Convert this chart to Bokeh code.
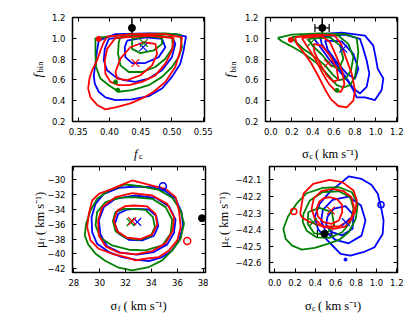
import math
from bokeh.plotting import figure
from bokeh.layouts import column, row
from bokeh.models import (Range1d, LinearAxis, FixedTicker, CustomJSTickFormatter,
                          Label, Whisker, TeeHead, ColumnDataSource)
from bokeh.embed import file_html
from bokeh.resources import INLINE

BLUE, GREEN, RED = "#0000ff", "#008000", "#ff0000"

# ---------------- panel A : f_c  vs  f_bin ----------------
a_xticks = [0.35, 0.40, 0.45, 0.50, 0.55]
a_yticks = [0.2, 0.4, 0.6, 0.8, 1.0, 1.2]
a_blue_3 = [(0.383, 0.978), (0.4096, 1.041), (0.4628, 1.048), (0.5053, 1.041), (0.5224, 1.016), (0.5186, 0.883),
            (0.5133, 0.756), (0.500, 0.629), (0.4841, 0.517), (0.4628, 0.444), (0.4362, 0.413), (0.4096, 0.406),
            (0.3936, 0.432), (0.383, 0.486), (0.3766, 0.565), (0.375, 0.644), (0.3777, 0.756), (0.3803, 0.883)]
a_blue_2 = [(0.399, 0.994), (0.4468, 1.025), (0.500, 1.010), (0.5053, 0.946), (0.500, 0.819), (0.4841, 0.692),
            (0.4628, 0.613), (0.4415, 0.581), (0.4229, 0.597), (0.4096, 0.629), (0.3963, 0.692), (0.391, 0.787),
            (0.3926, 0.898)]
a_blue_1 = [(0.4282, 0.978), (0.4574, 1.010), (0.4841, 0.994), (0.4894, 0.914), (0.4787, 0.819), (0.4574, 0.762),
            (0.4362, 0.762), (0.4255, 0.819), (0.4245, 0.914)]
a_green_3 = [(0.3777, 1.003), (0.4362, 1.041), (0.4894, 1.048), (0.5133, 1.035), (0.516, 0.914), (0.5107, 0.819),
             (0.500, 0.724), (0.4841, 0.629), (0.4628, 0.549), (0.4362, 0.501), (0.4149, 0.486), (0.399, 0.549),
             (0.3856, 0.613), (0.3787, 0.724), (0.3777, 0.851)]
a_green_2 = [(0.4176, 1.010), (0.4628, 1.035), (0.500, 1.010), (0.5016, 0.914), (0.4894, 0.803), (0.4734, 0.724),
             (0.4521, 0.676), (0.4309, 0.676), (0.4176, 0.740), (0.4138, 0.851), (0.4149, 0.962)]
a_green_1 = [(0.4362, 0.994), (0.4628, 1.022), (0.4841, 1.003), (0.4841, 0.946), (0.4708, 0.883), (0.4495, 0.857),
             (0.4362, 0.898)]
a_red_3 = [(0.3963, 1.016), (0.4362, 1.041), (0.4894, 1.041), (0.516, 1.010), (0.5133, 0.883), (0.5053, 0.724),
           (0.4894, 0.581), (0.4708, 0.486), (0.4521, 0.422), (0.4335, 0.375), (0.4096, 0.336), (0.3936, 0.317),
           (0.3803, 0.359), (0.3697, 0.432), (0.366, 0.517), (0.3681, 0.613), (0.3723, 0.692), (0.3803, 0.787),
           (0.3856, 0.883), (0.391, 0.962)]
a_red_2 = [(0.4096, 1.003), (0.4628, 1.025), (0.5027, 1.003), (0.500, 0.883), (0.4894, 0.756), (0.4734, 0.644),
           (0.4521, 0.581), (0.4309, 0.549), (0.4149, 0.549), (0.4016, 0.581), (0.3936, 0.660), (0.3926, 0.787),
           (0.3963, 0.898)]
a_red_1 = [(0.4096, 0.676), (0.4176, 0.804), (0.4335, 0.914), (0.4548, 0.962), (0.4735, 0.947), (0.4762, 0.851),
           (0.4682, 0.740), (0.4495, 0.645), (0.4283, 0.597), (0.4123, 0.613)]
a_cross_blue = (0.4538, 0.914)
a_cross_green = (0.455, 0.955)
a_cross_red = (0.4415, 0.762)
a_dots_red = [(0.383, 0.994)]
a_dots_green = [(0.4098, 0.581), (0.4133, 0.502)]
a_obs_x, a_obs_y, a_obs_ylo, a_obs_yhi = [0.436], [1.10], [1.0], [1.2]

# ---------------- panel B : sigma_c  vs  f_bin ----------------
b_xticks = [0.0, 0.2, 0.4, 0.6, 0.8, 1.0, 1.2]
b_yticks = [0.2, 0.4, 0.6, 0.8, 1.0, 1.2]
b_blue_3 = [(0.4058, 1.035), (0.675, 1.054), (0.897, 1.025), (0.976, 0.930), (0.9986, 0.819), (1.0176, 0.708),
            (1.0715, 0.613), (1.0556, 0.502), (0.9922, 0.406), (0.897, 0.432), (0.818, 0.432), (0.786, 0.502),
            (0.7386, 0.581), (0.6594, 0.676), (0.5643, 0.787), (0.485, 0.898), (0.4216, 0.984)]
b_blue_2 = [(0.469, 1.016), (0.7069, 1.035), (0.8496, 0.994), (0.8813, 0.898), (0.913, 0.787), (0.9383, 0.660),
            (0.913, 0.533), (0.8496, 0.470), (0.786, 0.517), (0.7228, 0.613), (0.6435, 0.724), (0.5484, 0.851),
            (0.485, 0.946)]
b_blue_1 = [(0.5167, 0.978), (0.675, 0.971), (0.786, 0.851), (0.8337, 0.708), (0.802, 0.613), (0.7228, 0.660),
            (0.6277, 0.771), (0.542, 0.889)]
b_green_3 = [(0.0666, 1.003), (0.200, 1.035), (0.4533, 1.048), (0.7069, 1.041), (0.8179, 1.003), (0.8337, 0.867),
             (0.8179, 0.740), (0.802, 0.629), (0.7545, 0.549), (0.6911, 0.527), (0.6277, 0.549), (0.5484, 0.644),
             (0.4375, 0.762), (0.3107, 0.857), (0.1839, 0.930), (0.1046, 0.971)]
b_green_2 = [(0.200, 1.010), (0.4216, 1.035), (0.6435, 1.025), (0.7386, 0.946), (0.786, 0.819), (0.764, 0.692),
             (0.7133, 0.613), (0.653, 0.597), (0.596, 0.644), (0.5167, 0.740), (0.4216, 0.819), (0.3107, 0.898),
             (0.2314, 0.971)]
b_green_1 = [(0.3582, 0.994), (0.5643, 1.010), (0.6594, 0.930), (0.691, 0.803), (0.6499, 0.708), (0.5738, 0.740),
             (0.485, 0.844), (0.3963, 0.930)]
b_red_3 = [(0.2314, 1.010), (0.4216, 1.035), (0.6055, 1.029), (0.6689, 0.946), (0.7133, 0.819), (0.7703, 0.660),
           (0.802, 0.502), (0.786, 0.400), (0.7228, 0.336), (0.6435, 0.349), (0.5738, 0.413), (0.5167, 0.508),
           (0.4533, 0.635), (0.3836, 0.762), (0.3107, 0.867), (0.2473, 0.946)]
b_red_2 = [(0.2948, 1.003), (0.485, 1.022), (0.5643, 0.962), (0.6277, 0.819), (0.6816, 0.676), (0.7006, 0.559),
           (0.6689, 0.486), (0.6182, 0.492), (0.5548, 0.559), (0.4914, 0.667), (0.428, 0.794), (0.3582, 0.905)]
b_red_1 = [(0.4058, 0.946), (0.485, 0.930), (0.5643, 0.835), (0.6277, 0.708), (0.6435, 0.603), (0.596, 0.581),
           (0.5326, 0.644), (0.4692, 0.756), (0.4153, 0.867)]
b_cross_blue = (0.69, 0.90)
b_cross_green = (0.38, 0.955)
b_cross_red = (0.545, 0.76)
b_dots_red = [(0.19, 0.985)]
b_dots_green = [(0.63, 0.50)]
b_obs_x, b_obs_y = [0.49], [1.10]
b_obs_xlo, b_obs_xhi, b_obs_ylo, b_obs_yhi = [0.42], [0.556], [1.0], [1.2]

# ---------------- panel C : sigma_f  vs  mu_f ----------------
c_xticks = [28, 30, 32, 34, 36, 38]
c_yticks = [-30, -32, -34, -36, -38, -40, -42]
c_blue_3 = [(32.77, -30.94), (34.06, -31.03), (35.09, -31.57), (35.86, -32.60), (36.32, -34.38), (36.43, -36.17),
            (36.12, -38.19), (35.55, -39.62), (34.83, -40.43), (33.80, -40.96), (32.77, -40.78), (31.74, -40.43),
            (30.71, -39.75), (29.80, -38.64), (29.42, -37.07), (29.37, -35.06), (29.68, -33.27), (30.32, -31.92),
            (31.48, -31.12)]
c_blue_2 = [(32.64, -32.15), (34.31, -32.46), (35.35, -33.62), (35.86, -35.41), (35.73, -37.20), (35.22, -38.72),
            (34.19, -39.75), (32.90, -40.11), (31.61, -39.84), (30.58, -38.99), (30.06, -37.38), (29.93, -35.50),
            (30.32, -33.71), (31.22, -32.60)]
c_blue_1 = [(32.77, -33.94), (33.80, -34.03), (34.37, -34.92), (34.52, -36.26), (34.19, -37.56), (33.28, -38.19),
            (32.25, -38.10), (31.48, -37.29), (31.17, -35.95), (31.43, -34.61), (32.12, -34.03)]
c_green_3 = [(32.00, -30.67), (33.28, -30.94), (34.57, -31.39), (35.60, -32.46), (36.25, -34.16), (36.51, -35.95),
             (36.25, -37.96), (35.60, -39.53), (34.83, -40.87), (33.80, -41.77), (32.51, -42.21), (31.48, -41.86),
             (30.45, -40.96), (29.68, -39.98), (29.11, -38.72), (28.85, -37.52), (28.95, -35.95), (29.29, -34.16),
             (29.80, -32.60), (30.71, -31.48)]
c_green_2 = [(32.51, -32.37), (34.06, -32.60), (35.09, -33.71), (35.60, -35.41), (35.47, -37.29), (34.83, -38.86),
             (33.54, -39.53), (32.25, -39.44), (30.96, -38.86), (30.06, -37.83), (29.68, -36.17), (29.80, -34.38),
             (30.45, -33.04), (31.48, -32.46)]
c_green_1 = [(32.51, -33.94), (33.54, -34.07), (34.11, -35.06), (34.26, -36.40), (33.93, -37.65), (33.03, -38.10),
             (32.00, -37.83), (31.22, -36.94), (31.02, -35.59), (31.22, -34.38), (31.87, -33.94)]
c_red_3 = [(32.51, -30.13), (34.06, -30.81), (35.09, -31.25), (35.86, -32.37), (36.12, -34.16), (36.25, -36.40),
           (35.99, -38.19), (35.35, -39.53), (34.57, -40.43), (33.54, -40.65), (32.77, -40.87), (32.00, -40.43),
           (30.96, -39.98), (29.93, -39.31), (29.29, -38.19), (29.03, -36.40), (29.16, -34.61), (29.42, -32.82),
           (29.93, -31.92), (30.96, -31.25), (31.87, -30.58)]
c_red_2 = [(32.51, -31.83), (34.06, -32.15), (35.22, -33.27), (35.73, -35.06), (35.65, -36.85), (35.09, -38.55),
           (34.06, -39.62), (32.77, -40.07), (31.48, -39.84), (30.45, -38.99), (29.93, -37.52), (29.88, -35.50),
           (30.19, -33.71), (31.22, -32.37)]
c_red_1 = [(32.64, -33.49), (33.67, -33.62), (34.31, -34.61), (34.44, -36.04), (34.06, -37.38), (33.15, -38.01),
           (32.12, -37.83), (31.35, -36.94), (31.09, -35.50), (31.35, -34.16), (31.99, -33.58)]
c_cross_blue = (32.9, -35.7)
c_cross_green = (32.38, -35.73)
c_cross_red = (32.51, -35.59)
c_loops_blue = [(34.88, -30.89)]
c_loops_red = [(36.76, -38.28)]
c_obs_x, c_obs_y = [37.9], [-35.2]

# ---------------- panel D : sigma_c  vs  mu_c ----------------
d_xticks = [0.0, 0.2, 0.4, 0.6, 0.8, 1.0, 1.2]
d_yticks = [-42.1, -42.2, -42.3, -42.4, -42.5, -42.6]
d_blue_3 = [(0.648, -42.12), (0.727, -42.08), (0.854, -42.095), (0.95, -42.13), (1.013, -42.184), (1.045, -42.265),
            (1.070, -42.345), (1.061, -42.426), (0.981, -42.506), (0.870, -42.536), (0.743, -42.556), (0.648, -42.546),
            (0.584, -42.506), (0.505, -42.456), (0.426, -42.396), (0.394, -42.325), (0.441, -42.245), (0.553, -42.165)]
d_blue_2 = [(0.473, -42.281), (0.569, -42.221), (0.727, -42.201), (0.848, -42.255), (0.892, -42.345), (0.854, -42.436),
            (0.727, -42.482), (0.600, -42.462), (0.505, -42.416), (0.457, -42.349)]
d_blue_1 = [(0.521, -42.319), (0.585, -42.273), (0.696, -42.259), (0.775, -42.313), (0.765, -42.394), (0.664, -42.434),
            (0.553, -42.414), (0.505, -42.368)]
d_green_3 = [(0.314, -42.181), (0.473, -42.149), (0.632, -42.145), (0.759, -42.175), (0.816, -42.245), (0.797, -42.335),
             (0.727, -42.416), (0.632, -42.462), (0.521, -42.486), (0.394, -42.510), (0.267, -42.520), (0.172, -42.496),
             (0.108, -42.456), (0.086, -42.395), (0.131, -42.321), (0.213, -42.245)]
d_green_2 = [(0.283, -42.305), (0.346, -42.224), (0.473, -42.174), (0.632, -42.169), (0.743, -42.205), (0.775, -42.275),
             (0.743, -42.355), (0.664, -42.416), (0.537, -42.450), (0.410, -42.446), (0.314, -42.406), (0.276, -42.355)]
d_green_1 = [(0.330, -42.295), (0.441, -42.269), (0.562, -42.295), (0.585, -42.375), (0.505, -42.426), (0.388, -42.422),
             (0.325, -42.365)]
d_red_3 = [(0.251, -42.305), (0.283, -42.184), (0.378, -42.124), (0.537, -42.100), (0.664, -42.114), (0.775, -42.164),
           (0.807, -42.224), (0.791, -42.295), (0.728, -42.345), (0.632, -42.381), (0.473, -42.381), (0.346, -42.355),
           (0.267, -42.325)]
d_red_2 = [(0.569, -42.155), (0.675, -42.168), (0.755, -42.205), (0.780, -42.270), (0.760, -42.335), (0.690, -42.382),
           (0.580, -42.395), (0.470, -42.380), (0.395, -42.335), (0.363, -42.275), (0.385, -42.210), (0.460, -42.168)]
d_red_1 = [(0.537, -42.205), (0.610, -42.215), (0.660, -42.250), (0.664, -42.295), (0.630, -42.345), (0.560, -42.365),
           (0.480, -42.355), (0.425, -42.320), (0.412, -42.275), (0.440, -42.230), (0.485, -42.210)]
d_cross_blue = (0.699, -42.355)
d_cross_green = (0.378, -42.355)
d_cross_red = (0.553, -42.285)
d_loops_blue = [(1.045, -42.25)]
d_loops_red = [(0.188, -42.291)]
d_dots_blue = [(0.696, -42.58)]
d_obs_x, d_obs_y, d_obs_xlo, d_obs_xhi = [0.49], [-42.425], [0.42], [0.563]

# ---------------- axis label texts ----------------
NB = "\u00a0"
UNIT = NB + NB + "( km s\u207b\u00b9)"
SIGMA_MAIN = "\u03c3" + UNIT
MU_MAIN = "\u03bc" + UNIT


def make_panel(width, height, bl, br, bt, bb, xr, yr, xticks, yticks, xdec, ydec, ystand):
    p = figure(width=width, height=height, x_range=Range1d(*xr), y_range=Range1d(*yr),
               output_backend="svg", toolbar_location=None, x_axis_type=None, y_axis_type=None,
               min_border_left=bl, min_border_right=br, min_border_top=bt, min_border_bottom=bb)
    p.outline_line_color = "black"
    p.outline_line_width = 1.5
    p.outline_line_alpha = 1.0
    p.background_fill_color = "white"
    p.border_fill_color = "white"
    for loc, ticks, dec, show, stand in [("below", xticks, xdec, True, 6), ("left", yticks, ydec, True, ystand),
                                         ("above", xticks, xdec, False, 0), ("right", yticks, ydec, False, 0)]:
        ax = LinearAxis(ticker=FixedTicker(ticks=ticks, minor_ticks=[]),
                        formatter=CustomJSTickFormatter(
                            code="return tick.toFixed(%d).replace('-', '\\u2212');" % dec))
        ax.axis_line_color = None
        ax.major_tick_in = 4
        ax.major_tick_out = 0
        ax.minor_tick_in = 0
        ax.minor_tick_out = 0
        ax.major_tick_line_color = "black"
        ax.major_tick_line_width = 1
        ax.major_label_standoff = stand
        if show:
            ax.major_label_text_font = "DejaVu Sans"
            ax.major_label_text_font_size = "8.5px"
            ax.major_label_text_color = "#000000"
        else:
            ax.major_label_text_font_size = "0px"
            ax.major_label_text_color = None
        p.add_layout(ax, loc)
    return p


def draw_contours(p, sets):
    for pts, color in sets:
        xs = [q[0] for q in pts] + [pts[0][0]]
        ys = [q[1] for q in pts] + [pts[0][1]]
        p.line(xs, ys, line_color=color, line_width=1.8, line_join="round")


def draw_cross(p, pt, color):
    p.scatter([pt[0]], [pt[1]], marker="x", size=11, line_color=color, line_width=1.2)


def to_data(frame, xr, yr, px, py):
    fl, fr, ft, fb = frame
    x = xr[0] + (px - fl) / (fr - fl) * (xr[1] - xr[0])
    y = yr[1] - (py - ft) / (fb - ft) * (yr[1] - yr[0])
    return x, y


def put_text(p, frame, xr, yr, side, px, py, text, size, style="normal", rotated=False):
    # text placed at a page-pixel baseline point, hosted by a side panel (not clipped to the frame)
    x, y = to_data(frame, xr, yr, px, py)
    p.add_layout(Label(x=x, y=y, x_units="data", y_units="data", text=text,
                       angle=math.pi / 2 if rotated else 0.0,
                       text_font="Liberation Serif", text_font_size="%gpx" % size,
                       text_font_style=style, text_color="black",
                       text_align="left", text_baseline="alphabetic"), side)


# ---------------- build panels (page has no margin: canvases start at 0,0) ----------------
A_XR, A_YR = (0.341, 0.552), (0.2, 1.2)
B_XR, B_YR = (-0.0505, 1.2067), (0.2, 1.2)
C_XR, C_YR = (27.9, 38.17), (-42.5, -28.25)
D_XR, D_YR = (-0.0505, 1.2067), (-42.658, -42.02)
FA = (72, 204, 17, 122)
FB = (265, 397, 17, 122)
FC = (72, 205, 166, 272)
FD = (265, 397, 166, 272)

pa = make_panel(213, 161, 72, 9, 17, 39, A_XR, A_YR, a_xticks, a_yticks, 2, 1, 7)
pb = make_panel(202, 161, 52, 18, 17, 39, B_XR, B_YR, b_xticks, b_yticks, 1, 1, 7)
pc = make_panel(208, 154, 72, 3, 5, 43, C_XR, C_YR, c_xticks, c_yticks, 0, 0, 7)
pd = make_panel(207, 154, 57, 18, 5, 43, D_XR, D_YR, d_xticks, d_yticks, 1, 1, 8)

# ---- axis titles: main text + subscript, hosted by the bottom / left side panels ----
# top-left
put_text(pa, FA, A_XR, A_YR, "below", 133.6, 154.5, "f", 12.5, "italic")
put_text(pa, FA, A_XR, A_YR, "below", 138.6, 157.0, "c", 8.5)
put_text(pa, FA, A_XR, A_YR, "left", 37.0, 77.5, "f", 12.5, "italic", True)
put_text(pa, FA, A_XR, A_YR, "left", 39.5, 72.5, "bin", 8.5, "normal", True)
# top-right
put_text(pb, FB, B_XR, B_YR, "below", 301.5, 154.5, SIGMA_MAIN, 12.5)
put_text(pb, FB, B_XR, B_YR, "below", 308.8, 157.0, "c", 8.5)
put_text(pb, FB, B_XR, B_YR, "left", 229.5, 77.5, "f", 12.5, "italic", True)
put_text(pb, FB, B_XR, B_YR, "left", 232.0, 72.5, "bin", 8.5, "normal", True)
# bottom-left
put_text(pc, FC, C_XR, C_YR, "below", 110.0, 305.0, SIGMA_MAIN, 12.5)
put_text(pc, FC, C_XR, C_YR, "below", 117.3, 307.5, "f", 8.5)
put_text(pc, FC, C_XR, C_YR, "left", 39.0, 247.5, MU_MAIN, 12.5, "normal", True)
put_text(pc, FC, C_XR, C_YR, "left", 41.5, 240.2, "f", 8.5, "normal", True)
# bottom-right
put_text(pd, FD, D_XR, D_YR, "below", 301.5, 305.0, SIGMA_MAIN, 12.5)
put_text(pd, FD, D_XR, D_YR, "below", 308.8, 307.5, "c", 8.5)
put_text(pd, FD, D_XR, D_YR, "left", 218.0, 247.5, MU_MAIN, 12.5, "normal", True)
put_text(pd, FD, D_XR, D_YR, "left", 220.5, 240.2, "c", 8.5, "normal", True)

# panel A
draw_contours(pa, [(a_blue_3, BLUE), (a_blue_2, BLUE), (a_blue_1, BLUE),
                   (a_green_3, GREEN), (a_green_2, GREEN), (a_green_1, GREEN),
                   (a_red_3, RED), (a_red_2, RED), (a_red_1, RED)])
pa.scatter([q[0] for q in a_dots_red], [q[1] for q in a_dots_red], size=5, color=RED)
pa.scatter([q[0] for q in a_dots_green], [q[1] for q in a_dots_green], size=4, color=GREEN)
draw_cross(pa, a_cross_blue, BLUE)
draw_cross(pa, a_cross_green, GREEN)
draw_cross(pa, a_cross_red, RED)
src_a = ColumnDataSource(dict(x=a_obs_x, y=a_obs_y, ylo=a_obs_ylo, yhi=a_obs_yhi))
pa.add_layout(Whisker(source=src_a, base="x", lower="ylo", upper="yhi", dimension="height",
                      line_color="black", line_width=1.5, upper_head=None, lower_head=None))
pa.scatter("x", "y", source=src_a, size=7, color="black")

# panel B
draw_contours(pb, [(b_blue_3, BLUE), (b_blue_2, BLUE), (b_blue_1, BLUE),
                   (b_green_3, GREEN), (b_green_2, GREEN), (b_green_1, GREEN),
                   (b_red_3, RED), (b_red_2, RED), (b_red_1, RED)])
pb.scatter([q[0] for q in b_dots_red], [q[1] for q in b_dots_red], size=5, color=RED)
pb.scatter([q[0] for q in b_dots_green], [q[1] for q in b_dots_green], size=4, color=GREEN)
draw_cross(pb, b_cross_blue, BLUE)
draw_cross(pb, b_cross_green, GREEN)
draw_cross(pb, b_cross_red, RED)
src_b = ColumnDataSource(dict(x=b_obs_x, y=b_obs_y, xlo=b_obs_xlo, xhi=b_obs_xhi, ylo=b_obs_ylo, yhi=b_obs_yhi))
pb.add_layout(Whisker(source=src_b, base="x", lower="ylo", upper="yhi", dimension="height",
                      line_color="black", line_width=1.5, upper_head=None, lower_head=None))
pb.add_layout(Whisker(source=src_b, base="y", lower="xlo", upper="xhi", dimension="width",
                      line_color="black", line_width=1.2,
                      upper_head=TeeHead(size=8, line_color="black", line_width=1.2),
                      lower_head=TeeHead(size=8, line_color="black", line_width=1.2)))
pb.scatter("x", "y", source=src_b, size=7, color="black")

# panel C
draw_contours(pc, [(c_blue_3, BLUE), (c_blue_2, BLUE), (c_blue_1, BLUE),
                   (c_green_3, GREEN), (c_green_2, GREEN), (c_green_1, GREEN),
                   (c_red_3, RED), (c_red_2, RED), (c_red_1, RED)])
pc.scatter([q[0] for q in c_loops_blue], [q[1] for q in c_loops_blue], marker="circle", size=7,
           fill_color=None, line_color=BLUE, line_width=1.5)
pc.scatter([q[0] for q in c_loops_red], [q[1] for q in c_loops_red], marker="circle", size=7,
           fill_color=None, line_color=RED, line_width=1.5)
draw_cross(pc, c_cross_blue, BLUE)
draw_cross(pc, c_cross_green, GREEN)
draw_cross(pc, c_cross_red, RED)
pc.scatter(c_obs_x, c_obs_y, size=7, color="black")

# panel D
draw_contours(pd, [(d_blue_3, BLUE), (d_blue_2, BLUE), (d_blue_1, BLUE),
                   (d_green_3, GREEN), (d_green_2, GREEN), (d_green_1, GREEN),
                   (d_red_3, RED), (d_red_2, RED), (d_red_1, RED)])
pd.scatter([q[0] for q in d_loops_blue], [q[1] for q in d_loops_blue], marker="circle", size=6,
           fill_color=None, line_color=BLUE, line_width=1.5)
pd.scatter([q[0] for q in d_loops_red], [q[1] for q in d_loops_red], marker="circle", size=6,
           fill_color=None, line_color=RED, line_width=1.5)
pd.scatter([q[0] for q in d_dots_blue], [q[1] for q in d_dots_blue], size=3, color=BLUE)
draw_cross(pd, d_cross_blue, BLUE)
draw_cross(pd, d_cross_green, GREEN)
draw_cross(pd, d_cross_red, RED)
src_d = ColumnDataSource(dict(x=d_obs_x, y=d_obs_y, xlo=d_obs_xlo, xhi=d_obs_xhi))
pd.add_layout(Whisker(source=src_d, base="y", lower="xlo", upper="xhi", dimension="width",
                      line_color="black", line_width=1.2,
                      upper_head=TeeHead(size=8, line_color="black", line_width=1.2),
                      lower_head=TeeHead(size=8, line_color="black", line_width=1.2)))
pd.scatter("x", "y", source=src_d, size=7, color="black")

layout = column(row(pa, pb), row(pc, pd))
with open("out.html", "w", encoding="utf-8") as f:
    f.write(file_html(layout, INLINE))
